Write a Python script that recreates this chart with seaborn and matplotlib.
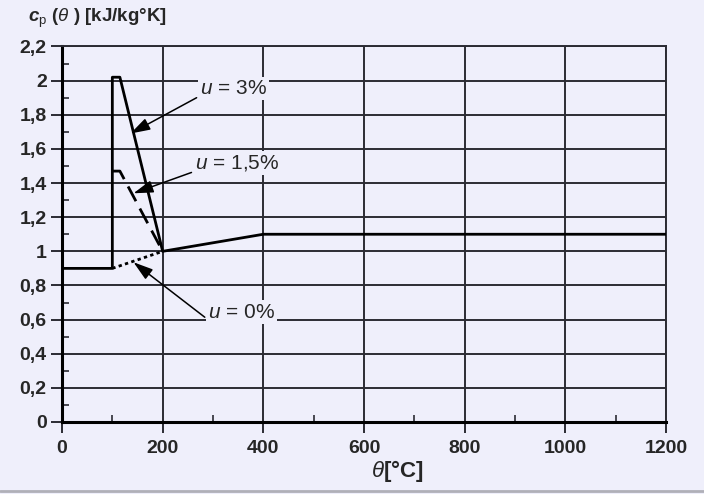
import matplotlib
matplotlib.use("Agg")
import matplotlib.pyplot as plt
import seaborn as sns
import numpy as np
from matplotlib.ticker import MultipleLocator, FixedLocator

# ---- data ----
theta_u3 = [0, 100, 100, 115, 200, 400, 1200]
cp_u3 = [0.9, 0.9, 2.02, 2.02, 1.0, 1.1, 1.1]
theta_u15 = [100, 115, 200]
cp_u15 = [1.47, 1.47, 1.0]
theta_u0 = [100, 200]
cp_u0 = [0.9, 1.0]
x_ticks = [0, 200, 400, 600, 800, 1000, 1200]
y_ticks = [0, 0.2, 0.4, 0.6, 0.8, 1.0, 1.2, 1.4, 1.6, 1.8, 2.0, 2.2]
y_labels = ["0", "0,2", "0,4", "0,6", "0,8", "1", "1,2", "1,4", "1,6", "1,8", "2", "2,2"]
labels = ["u = 3%", "u = 1,5%", "u = 0%"]

BG = "#EFEFFB"
GRID = "#2b2b33"

sns.set_theme(style="white")
plt.rcParams["font.family"] = ["Liberation Sans", "DejaVu Sans"]
plt.rcParams["mathtext.fontset"] = "custom"
plt.rcParams["mathtext.it"] = "Liberation Sans:italic"
plt.rcParams["mathtext.rm"] = "Liberation Sans"
plt.rcParams["mathtext.bf"] = "Liberation Sans:bold:italic"

fig = plt.figure(figsize=(7.04, 4.94), dpi=100, facecolor=BG)
ax = fig.add_axes([62/704, 1 - 422/494, (666-62)/704, (422-46.5)/494])
ax.set_facecolor(BG)

sns.lineplot(x=theta_u3, y=cp_u3, ax=ax, estimator=None, sort=False,
             color="black", linewidth=2.0, zorder=5)
sns.lineplot(x=theta_u15, y=cp_u15, ax=ax, estimator=None, sort=False,
             color="black", linewidth=2.0, zorder=5)
ax.lines[-1].set_dashes([6, 3])
sns.lineplot(x=theta_u0, y=cp_u0, ax=ax, estimator=None, sort=False,
             color="black", linewidth=2.0, zorder=5)
ax.lines[-1].set_dashes([1.2, 1.2])

ax.set_xlim(0, 1200)
ax.set_ylim(0, 2.2)
ax.xaxis.set_major_locator(FixedLocator(x_ticks))
ax.xaxis.set_minor_locator(MultipleLocator(100))
ax.yaxis.set_major_locator(FixedLocator(y_ticks))
ax.yaxis.set_minor_locator(MultipleLocator(0.1))
ax.set_yticklabels(y_labels)
ax.set_xticklabels([str(v) for v in x_ticks])

ax.grid(True, which="major", color=GRID, linewidth=1.4, zorder=1)
ax.set_axisbelow(True)
for s in ["top", "right"]:
    ax.spines[s].set_color(GRID)
    ax.spines[s].set_linewidth(1.4)
for s in ["left", "bottom"]:
    ax.spines[s].set_color("black")
    ax.spines[s].set_linewidth(2.2)

ax.tick_params(which="major", direction="out", length=8, width=1.4, color=GRID,
               labelsize=14, pad=3)
ax.tick_params(which="minor", direction="in", length=5, width=1.2, color=GRID)
ax.tick_params(axis="x", which="major", pad=5)
ax.tick_params(which="both", bottom=True, left=True, top=False, right=False)
for t in ax.get_xticklabels() + ax.get_yticklabels():
    t.set_fontweight("bold")
ax.set_xlabel("")
ax.set_ylabel("")

bbox = dict(boxstyle="square,pad=0.1", fc=BG, ec="none")
arrow = dict(arrowstyle="-|>,head_length=0.8,head_width=0.25", color="black",
             lw=1.1, relpos=(0, 0.1), shrinkA=1, shrinkB=0)
ann = [
    (labels[0], (136, 1.69), (274, 1.955)),
    (labels[1], (142, 1.34), (264, 1.516)),
    (labels[2], (142, 0.936), (290, 0.644)),
]
for lab, tip, txt in ann:
    s = r"$u$" + lab[1:]
    ax.annotate(s, xy=tip, xytext=txt, ha="left", va="center", fontsize=15,
                bbox=bbox, arrowprops=arrow, zorder=6)

fig.text(28/704, 1 - 18/494, r"$\mathbf{c}_{\mathrm{p}}$ ($\theta$ ) [kJ/kg°K]",
         ha="left", va="center", fontsize=13.5, fontweight="bold")
fig.text(397/704, 1 - 471/494, r"$\theta$[°C]", ha="center", va="center",
         fontsize=16, fontweight="bold")

fig.add_artist(plt.Line2D([0, 1], [1 - 491/494, 1 - 491/494], color="#b0b0b8",
                          linewidth=2, transform=fig.transFigure))

fig.savefig("out.png", dpi=100, facecolor=BG)
